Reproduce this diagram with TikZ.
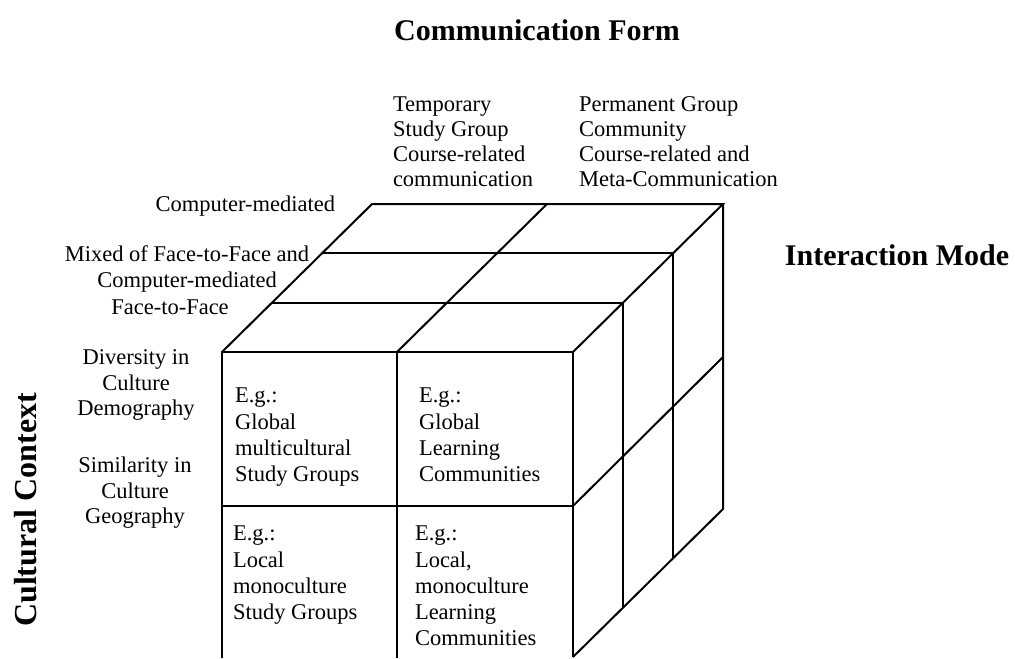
\documentclass[tikz,border=0pt]{standalone}
\usepackage{fontspec}
\setmainfont{Liberation Serif}
\begin{document}
\begin{tikzpicture}[x=0.5pt,y=-0.5pt, line width=1pt, line join=miter,
  lbl/.style={inner sep=0pt, font=\fontsize{11.25}{12.75}\selectfont},
  hdr/.style={inner sep=0pt, align=left, anchor=north west, font=\fontsize{11.25}{12.5}\selectfont},
  cell/.style={inner sep=0pt, align=left, anchor=north west, font=\fontsize{11.25}{13.15}\selectfont},
  head/.style={inner sep=0pt, font=\fontsize{15}{18}\selectfont\bfseries}]
\useasboundingbox (0,0) rectangle (1015,658);

% front face corners
\coordinate (F1) at (222,352);
\coordinate (F2) at (397,352);
\coordinate (F3) at (573,352);
\coordinate (FL) at (222,506);
\coordinate (FR) at (573,506);
\coordinate (B1) at (222,658);
\coordinate (B2) at (397,658);
\coordinate (B3) at (573,657);
% depth layers
\coordinate (T1a) at (272,303); \coordinate (T1b) at (623,303);
\coordinate (T2a) at (322,253); \coordinate (T2b) at (673,253);
\coordinate (T3a) at (372,204); \coordinate (T3m) at (547,204); \coordinate (T3b) at (723,204);
\coordinate (R1) at (623,608);
\coordinate (R2) at (673,558);
\coordinate (R3) at (723,509);
\coordinate (RM) at (723,357);

% front face
\draw (B1) -- (F1) -- (F3) -- (B3);
\draw (F2) -- (B2);
\draw (FL) -- (FR);
% top face
\draw (F1) -- (T3a) -- (T3b) -- (F3);
\draw (F2) -- (T3m);
\draw (T1a) -- (T1b);
\draw (T2a) -- (T2b);
% right face
\draw (T3b) -- (R3) -- (B3);
\draw (T1b) -- (R1);
\draw (T2b) -- (R2);
\draw (FR) -- (RM);

% headings
\node[head] (cf) at (537,30) {Communication Form};
\node[head] (im) at (897,255) {Interaction Mode};
\node[head, rotate=90, font=\fontsize{16}{19}\selectfont\bfseries] (cc) at (26,510) {Cultural Context};

% column labels
\node[hdr] (temp) at (392,96) {Temporary\\Study Group\\Course-related\\communication};
\node[hdr] (perm) at (578,96) {Permanent Group\\Community\\Course-related and\\Meta-Communication};

% interaction labels
\node[lbl, anchor=north east] (cm) at (336,195) {Computer-mediated};
\node[lbl, align=center, anchor=north] (mix) at (187,245) {Mixed of Face-to-Face and\\Computer-mediated};
\node[lbl, anchor=north] (ff) at (170,299) {Face-to-Face};

% cultural labels
\node[lbl, align=center, anchor=north] (div) at (136,349) {Diversity in\\Culture\\Demography};
\node[lbl, align=center, anchor=north] (sim) at (135,456) {Similarity in\\Culture\\Geography};

% cells
\node[cell] (c1) at (234,387) {E.g.:\\Global\\multicultural\\Study Groups};
\node[cell] (c2) at (418,387) {E.g.:\\Global\\Learning\\Communities};
\node[cell] (c3) at (232,525) {E.g.:\\Local\\monoculture\\Study Groups};
\node[cell] (c4) at (414,525) {E.g.:\\Local,\\monoculture\\Learning\\Communities};
\end{tikzpicture}
\end{document}
